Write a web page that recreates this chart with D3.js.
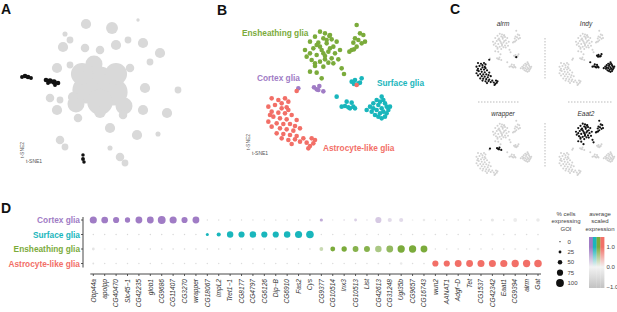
<!DOCTYPE html>
<html>
<head>
<meta charset="utf-8">
<script src="https://cdn.jsdelivr.net/npm/d3@7"></script>
<style>
  body { margin: 0; background: #fff; }
  text { font-family: "Liberation Sans", Arial, sans-serif; }
</style>
</head>
<body>
<div id="fig"></div>
<script>
// ---- data ----
var clusters = ["Cortex glia", "Surface glia", "Ensheathing glia", "Astrocyte-like glia"];
var clusterColors = ["#a07cc5", "#19b6bc", "#7bab3b", "#f26f67"];

// panel A: grey t-SNE islands [t1, t2, size] and the glia islands (black)
var aGrey = [[0,4,8],[-7,-1,8],[7,-2,8],[0,-7,7.5],[-9,7,6.5],[8,7,6.5],[-3,12,5],[12,-9,5],[-12,-8,5],
  [-7,32,3],[6,30,3.5],[19,34,1],[-17.5,27,1.5],[-15,24,2],[-18.5,20.5,3],
  [-7.5,20,2.5],[0,19,2.5],[8,21.5,3],[14,24,2],[21.5,22.5,3],[30,17.5,3],[25,13,2],[-21.5,10,3],[-15,11.5,2],
  [-6,9,3],[15,10,2.5],[22.5,0,3],[39,-1,2],[-25,-5,2.5],[-20,-6,2],[-13.5,-4.5,3],[-21.5,-11,3],[-11,-15,2.5],
  [0,-12,3.5],[11.5,-13.5,2.5],[21.5,-11,3],[33.5,-12.5,3],[5,-20,3],[18.5,-23.5,3],[-20,-26,2.5],[-17.5,-29.5,2],
  [29,-23,1.5],[5,-30,1.5],[10,-34.5,2.5],[12.5,-37.5,2]];
var aGlia = [[-39,5.5,1],[-37.5,6,1.2],[-36,5.5,1.2],[-34.5,5,1],[-27,4,1.2],[-25,3.5,1.4],[-23,3,1.4],[-21,2.5,1.2],
  [-26,2.5,1],[-22.5,1.5,1],[-8.5,-33.5,0.9],[-8.5,-35.5,1],[-8,-37,0.9]];

// panel B: glia t-SNE points [t1, t2]
var bEnsheathing = [[36,40.5],[37.5,40],[39,39.5],[34.5,39],[37,38.5],[39.5,38.2],[41,37.5],[33,37.5],[35.5,37.2],
  [38,37],[40,36],[42,35],[31.5,35],[34,35.5],[36.5,35],[38.5,34.5],[40.5,34],[33,34],[35,33.5],[37.5,33.2],
  [39.5,32.5],[41.5,32.2],[33.5,32],[36,31.5],[38.5,31.2],[34.5,30.2],[37,30],[33,28.5],[35,28.2],[42.5,29.5],
  [43.2,27.8],[36.5,26.5],[38,38],[36,36],[39,35.5],[35,36.5],[37.5,32.2],[40,31],[32,33],[34.5,31],[37,34],[38.8,39.2],
  [47,42.5],[48,40],[49,39.5],[46.5,38.5],[47.5,38],[49.5,37.5],[48.5,37],[46,37.2],[47,36],[45.5,35],[46.2,35.2],[44.8,34.5]];
var bCortex = [[29.5,23.5],[34.2,23.8],[35,23.2],[35.8,24.2],[35.5,23],[37,22.6]];
var bSurface = [[45.5,25.5],[46.2,24.8],[47.5,25],[46.5,26],[48.5,26.5],[48,25.2],
  [41,21],[42.5,18],[43.5,18.2],[44.5,17.8],[45.5,19.2],[45,17.5],[46,18],[44,19.5],[46.5,17.5],
  [54.5,21],[55,20],[54,19.5],[55.5,19],[56,18],[53.5,18.5],[54.5,17.5],[56.5,17],[55,16.5],[54,16],[53,17],
  [52,17.5],[50,17],[51.5,16.5],[52.5,15.5],[53.5,15],[55.5,15],[54.5,14.5],[57,18],[53,20],[52,19],[56,16],[51,18]];
var bAstrocyte = [[21.5,20.5],[23.5,20],[25.5,20.5],[26.5,19.5],[24.5,19],[22.5,18.5],[20.5,18],[24.5,17.5],[26,17.8],
  [21.5,16.5],[23.5,16.2],[25.5,16],[27.5,15.5],[22,15],[24,14.5],[26,14.2],[20.5,13.5],[23,13],[25,12.8],[27,12.8],
  [28.5,12.2],[21.5,12],[24,11.5],[26,11.2],[28,10.8],[30,11.5],[23,10],[25,9.8],[27,9.5],[29,9.2],[24.5,8.5],
  [26.5,8],[28.5,8.2],[31,8.5],[33.5,8.5],[32,7.2],[33,6.2],[34,7],[32.5,5.5],[34.5,8],[30,7.5],[27.5,6.8],
  [21,15.5],[26.5,17],[29,14],[29,22.7],[47,24.5]];
var bLabels = ["Ensheathing glia", "Cortex glia", "Surface glia", "Astrocyte-like glia"];

// panel C: marker genes and the cluster that expresses each
var cGenes = ["alrm", "Indy", "wrapper", "Eaat2"];
var cExpressing = ["Astrocyte-like glia", "Surface glia", "Cortex glia", "Ensheathing glia"];

// panel D: dot plot
var genes = ["Obp44a","apolpp","CG40470","Slc45-1","CG42235","glob1","CG9686","CG11407","CG3270","wrapper",
  "CG18067","ImpL2","Tret1-1","CG8177","CG4797","CG6126","Dip-B","CG6910","Fas2","Cys",
  "CG9377","CG10514","Inx3","CG10513","List","CG42613","CG31248","Ugt35b","CG9657","CG16743",
  "wun2","AANAT1","Adgf-D","Tet","CG1537","CG42342","Eaat1","CG9394","alrm","Gat"];
var pctCortex = [90,84,75,62,85,85,100,90,75,85, 3,3,5,3,3,5,8,5,3,10, 30,5,12,25,10,75,45,45,8,20, 5,5,5,8,8,30,8,40,5,35];
var pctSurface = [3,3,3,3,3,3,3,3,3,3, 28,45,78,75,80,75,75,80,90,97, 4,4,4,4,4,4,4,4,4,4, 6,6,6,6,6,15,6,8,6,8];
var pctEnsheathing = [25,15,5,5,12,5,8,5,5,5, 4,4,4,4,4,4,4,4,4,4, 40,55,62,70,72,80,85,92,92,85, 5,5,5,5,5,5,5,14,5,22];
var pctAstrocyte = [10,4,4,4,4,4,4,4,4,4, 4,4,4,4,4,4,4,4,4,4, 5,4,4,4,4,8,8,20,4,8, 75,75,85,85,88,88,90,92,92,95];
var exprCortex = [1.2,1.2,1.2,1.2,1.2,1.2,1.2,1.2,1.2,1.2, -0.5,-0.5,-0.4,-0.5,-0.5,-0.4,-0.3,-0.4,-0.5,-0.2,
  0.6,-0.2,0.1,0.3,0.05,0.35,0.2,0.2,-0.1,-0.2, -0.4,-0.4,-0.4,-0.4,-0.4,-0.25,-0.4,-0.15,-0.4,-0.2];
var exprSurface = [-0.6,-0.6,-0.6,-0.6,-0.6,-0.6,-0.6,-0.6,-0.6,-0.6, 1.2,1.2,1.2,1.2,1.2,1.2,1.2,1.2,1.2,1.2,
  -0.5,-0.5,-0.5,-0.5,-0.5,-0.5,-0.5,-0.5,-0.5,-0.5, -0.5,-0.5,-0.5,-0.5,-0.5,-0.2,-0.5,-0.4,-0.5,-0.4];
var exprEnsheathing = [-0.3,0,-0.6,-0.6,-0.2,-0.6,-0.4,-0.6,-0.6,-0.6, -0.6,-0.6,-0.6,-0.6,-0.6,-0.6,-0.6,-0.6,-0.6,-0.6,
  0.35,1.0,1.0,0.9,0.9,0.6,0.8,1.0,1.0,1.1, -0.5,-0.5,-0.5,-0.5,-0.5,-0.5,-0.5,-0.2,-0.5,-0.2];
var exprAstrocyte = [-0.4,-0.5,-0.5,-0.5,-0.5,-0.5,-0.5,-0.5,-0.5,-0.5, -0.5,-0.5,-0.5,-0.5,-0.5,-0.5,-0.5,-0.5,-0.5,-0.5,
  -0.5,-0.5,-0.5,-0.5,-0.5,-0.4,-0.4,-0.2,-0.5,-0.4, 1.1,1.1,1.1,1.1,1.1,1.1,1.1,1.1,1.1,1.1];
var sizeTicks = [0, 25, 50, 75, 100];
var colorTicks = [1.0, 0.0, -1.0];

var W = 617, H = 312;
var svg = d3.select("#fig").append("svg")
  .attr("width", W).attr("height", H)
  .style("display", "block");
svg.append("rect").attr("width", W).attr("height", H).attr("fill", "#fff");

function panelLabel(t, x, y){
  svg.append("text").attr("x", x).attr("y", y).text(t)
    .attr("font-size", 14).attr("font-weight", "bold").attr("fill", "#111");
}
function tsneAxes(g, x, y){
  g.append("text").attr("x", x + 3).attr("y", y + 5).text("t-SNE1")
    .attr("font-size", 5).attr("fill", "#555");
  g.append("text").attr("transform", "translate(" + (x + 1) + "," + y + ") rotate(-90)")
    .text("t-SNE2").attr("font-size", 5).attr("fill", "#555");
}

// ---- A ----
panelLabel("A", 1, 14);
var ax = d3.scaleLinear().domain([-50, 55]).range([0, 210]);
var ay = d3.scaleLinear().domain([-50, 44]).range([188, 0]);
var ar = d3.scaleLinear().domain([0, 1]).range([0, 1.7]);
var gA = svg.append("g");
gA.selectAll("circle.grey").data(aGrey).enter().append("circle")
  .attr("cx", d => ax(d[0])).attr("cy", d => ay(d[1])).attr("r", d => ar(d[2]))
  .attr("fill", "#d9d9d9");
gA.selectAll("circle.glia").data(aGlia).enter().append("circle")
  .attr("cx", d => ax(d[0])).attr("cy", d => ay(d[1])).attr("r", d => ar(d[2]) * 1.15)
  .attr("fill", "#111");
tsneAxes(gA, 23, 158);

// ---- B ----
panelLabel("B", 217, 15);
var bx = d3.scaleLinear().domain([0, 69]).range([200, 430]);
var by = d3.scaleLinear().domain([-7, 50]).range([190, 0]);
var bSets = [bCortex, bSurface, bEnsheathing, bAstrocyte];
var gB = svg.append("g");
var drawOrder = [2, 0, 1, 3];
drawOrder.forEach(function(ci){
  gB.append("g").selectAll("circle").data(bSets[ci]).enter().append("circle")
    .attr("cx", d => bx(d[0])).attr("cy", d => by(d[1])).attr("r", 2.3)
    .attr("fill", clusterColors[ci]);
});
var bLabelPos = [[12.6, 39.2], [17.1, 25.7], [53.1, 24.3], [36.9, 4.7]];
bLabels.forEach(function(l, i){
  gB.append("text").attr("x", bx(bLabelPos[i][0])).attr("y", by(bLabelPos[i][1]))
    .text(l).attr("font-size", 8.3).attr("font-weight", "bold")
    .attr("fill", clusterColors[clusters.indexOf(l)]);
});
tsneAxes(gB, 249, 150);

// ---- C ----
panelLabel("C", 450, 14);
var cOrigins = [[475, 30], [558, 30], [475, 120], [558, 120]];
var gC = svg.append("g");
cGenes.forEach(function(gname, i){
  var x0 = cOrigins[i][0], y0 = cOrigins[i][1];
  var cx = d3.scaleLinear().domain([19.5, 57.5]).range([x0, x0 + 57]);
  var cy = d3.scaleLinear().domain([5.5, 43]).range([y0 + 55, y0]);
  var g = gC.append("g");
  var grey = [], black = [];
  bSets.forEach(function(set, ci){
    set.forEach(function(p){
      if (clusters[ci] === cExpressing[i]) black.push(p); else grey.push(p);
    });
  });
  g.selectAll("circle.g").data(grey).enter().append("circle")
    .attr("cx", d => cx(d[0])).attr("cy", d => cy(d[1])).attr("r", 1).attr("fill", "#d2d2d2");
  g.selectAll("circle.b").data(black).enter().append("circle")
    .attr("cx", d => cx(d[0])).attr("cy", d => cy(d[1])).attr("r", 1.1).attr("fill", "#111");
  g.append("text").attr("x", x0 + 28).attr("y", y0 - 4).attr("text-anchor", "middle")
    .text(gname).attr("font-size", 6.5).attr("font-style", "italic").attr("fill", "#333");
});
// dashed separators
gC.append("line").attr("x1", 545).attr("x2", 545).attr("y1", 38).attr("y2", 80);
gC.append("line").attr("x1", 545).attr("x2", 545).attr("y1", 123).attr("y2", 167);
gC.append("line").attr("x1", 478).attr("x2", 520).attr("y1", 102).attr("y2", 102);
gC.append("line").attr("x1", 568).attr("x2", 612).attr("y1", 102).attr("y2", 102);
gC.selectAll("line").attr("stroke", "#aaa").attr("stroke-width", 0.8).attr("stroke-dasharray", "1.5,1.5");

// ---- D ----
panelLabel("D", 1, 213);
var pcts = [pctCortex, pctSurface, pctEnsheathing, pctAstrocyte];
var exprs = [exprCortex, exprSurface, exprEnsheathing, exprAstrocyte];
var dx = d3.scalePoint().domain(genes).range([93.3, 538]);
var dy = d3.scalePoint().domain(clusters).range([220, 263.5]);
var rScale = d3.scaleLinear().domain([0, 100]).range([0.6, 3.9]);
function exprColor(ci, e){
  if (e >= 0) return d3.interpolateRgb("#f3f3f3", clusterColors[ci])(Math.min(e, 1));
  return d3.interpolateRgb("#f3f3f3", "#c4c4c4")(Math.min(-e, 1));
}
var gD = svg.append("g");
var cells = [];
clusters.forEach(function(c, ci){
  genes.forEach(function(g, gi){
    cells.push({c: c, ci: ci, g: g, p: pcts[ci][gi], e: exprs[ci][gi]});
  });
});
gD.selectAll("circle").data(cells).enter().append("circle")
  .attr("cx", d => dx(d.g)).attr("cy", d => dy(d.c))
  .attr("r", d => rScale(d.p)).attr("fill", d => exprColor(d.ci, d.e));

// y axis
gD.append("line").attr("x1", 83).attr("x2", 83).attr("y1", dy(clusters[0]) - 3).attr("y2", dy(clusters[3]) + 4)
  .attr("stroke", "#333").attr("stroke-width", 0.9);
gD.selectAll("line.ytick").data(clusters).enter().append("line")
  .attr("x1", 81).attr("x2", 83).attr("y1", d => dy(d)).attr("y2", d => dy(d))
  .attr("stroke", "#333").attr("stroke-width", 0.8);
gD.selectAll("text.ylab").data(clusters).enter().append("text")
  .attr("x", 80).attr("y", d => dy(d) + 3).attr("text-anchor", "end")
  .text(d => d).attr("font-size", 8.3).attr("font-weight", "bold")
  .attr("fill", (d, i) => clusterColors[i]);

// x axis
gD.append("line").attr("x1", dx(genes[0]) - 3).attr("x2", dx(genes[genes.length - 1]) + 3)
  .attr("y1", 274).attr("y2", 274).attr("stroke", "#333").attr("stroke-width", 0.9);
gD.selectAll("line.xtick").data(genes).enter().append("line")
  .attr("x1", d => dx(d)).attr("x2", d => dx(d)).attr("y1", 274).attr("y2", 276)
  .attr("stroke", "#333").attr("stroke-width", 0.8);
gD.selectAll("text.xlab").data(genes).enter().append("text")
  .attr("transform", d => "translate(" + (dx(d) + 2.3) + ",279) rotate(-90)")
  .attr("text-anchor", "end").text(d => d.replace("-", "\u2212"))
  .attr("font-size", 6.6).attr("font-style", "italic").attr("fill", "#333");

// size legend
var gL = svg.append("g");
["% cells", "expressing", "GOI"].forEach(function(t, i){
  gL.append("text").attr("x", 566).attr("y", 216 + i * 7.3).attr("text-anchor", "middle")
    .text(t).attr("font-size", 6).attr("fill", "#444");
});
var ly = d3.scalePoint().domain(sizeTicks).range([241.7, 283]);
gL.selectAll("circle").data(sizeTicks).enter().append("circle")
  .attr("cx", 560).attr("cy", d => ly(d)).attr("r", d => rScale(d)).attr("fill", "#111");
gL.selectAll("text.sz").data(sizeTicks).enter().append("text")
  .attr("x", 567.5).attr("y", d => ly(d) + 2).text(d => d)
  .attr("font-size", 6).attr("fill", "#444");

// colour legend
["average", "scaled", "expression"].forEach(function(t, i){
  gL.append("text").attr("x", 600).attr("y", 216 + i * 7.3).attr("text-anchor", "middle")
    .text(t).attr("font-size", 6).attr("fill", "#444");
});
var cbY = d3.scaleLinear().domain([1.5, -1.05]).range([237, 288]);
var defs = svg.append("defs");
var stopVals = d3.range(1.5, -1.06, -0.25);
var stripW = 3.8;
clusters.forEach(function(c, ci){
  var grad = defs.append("linearGradient").attr("id", "cb" + ci)
    .attr("x1", 0).attr("x2", 0).attr("y1", 0).attr("y2", 1);
  stopVals.forEach(function(v){
    grad.append("stop").attr("offset", (cbY(v) - 237) / 51).attr("stop-color", exprColor(ci, v));
  });
  gL.append("rect").attr("x", 589 + ci * stripW).attr("y", 237).attr("width", stripW + 0.2).attr("height", 51)
    .attr("fill", "url(#cb" + ci + ")");
});
gL.selectAll("text.cb").data(colorTicks).enter().append("text")
  .attr("x", 606.5).attr("y", d => cbY(d) + 2).text(d => (d < 0 ? "\u2212" : "") + Math.abs(d).toFixed(1))
  .attr("font-size", 6).attr("fill", "#444");
</script>
</body>
</html>
